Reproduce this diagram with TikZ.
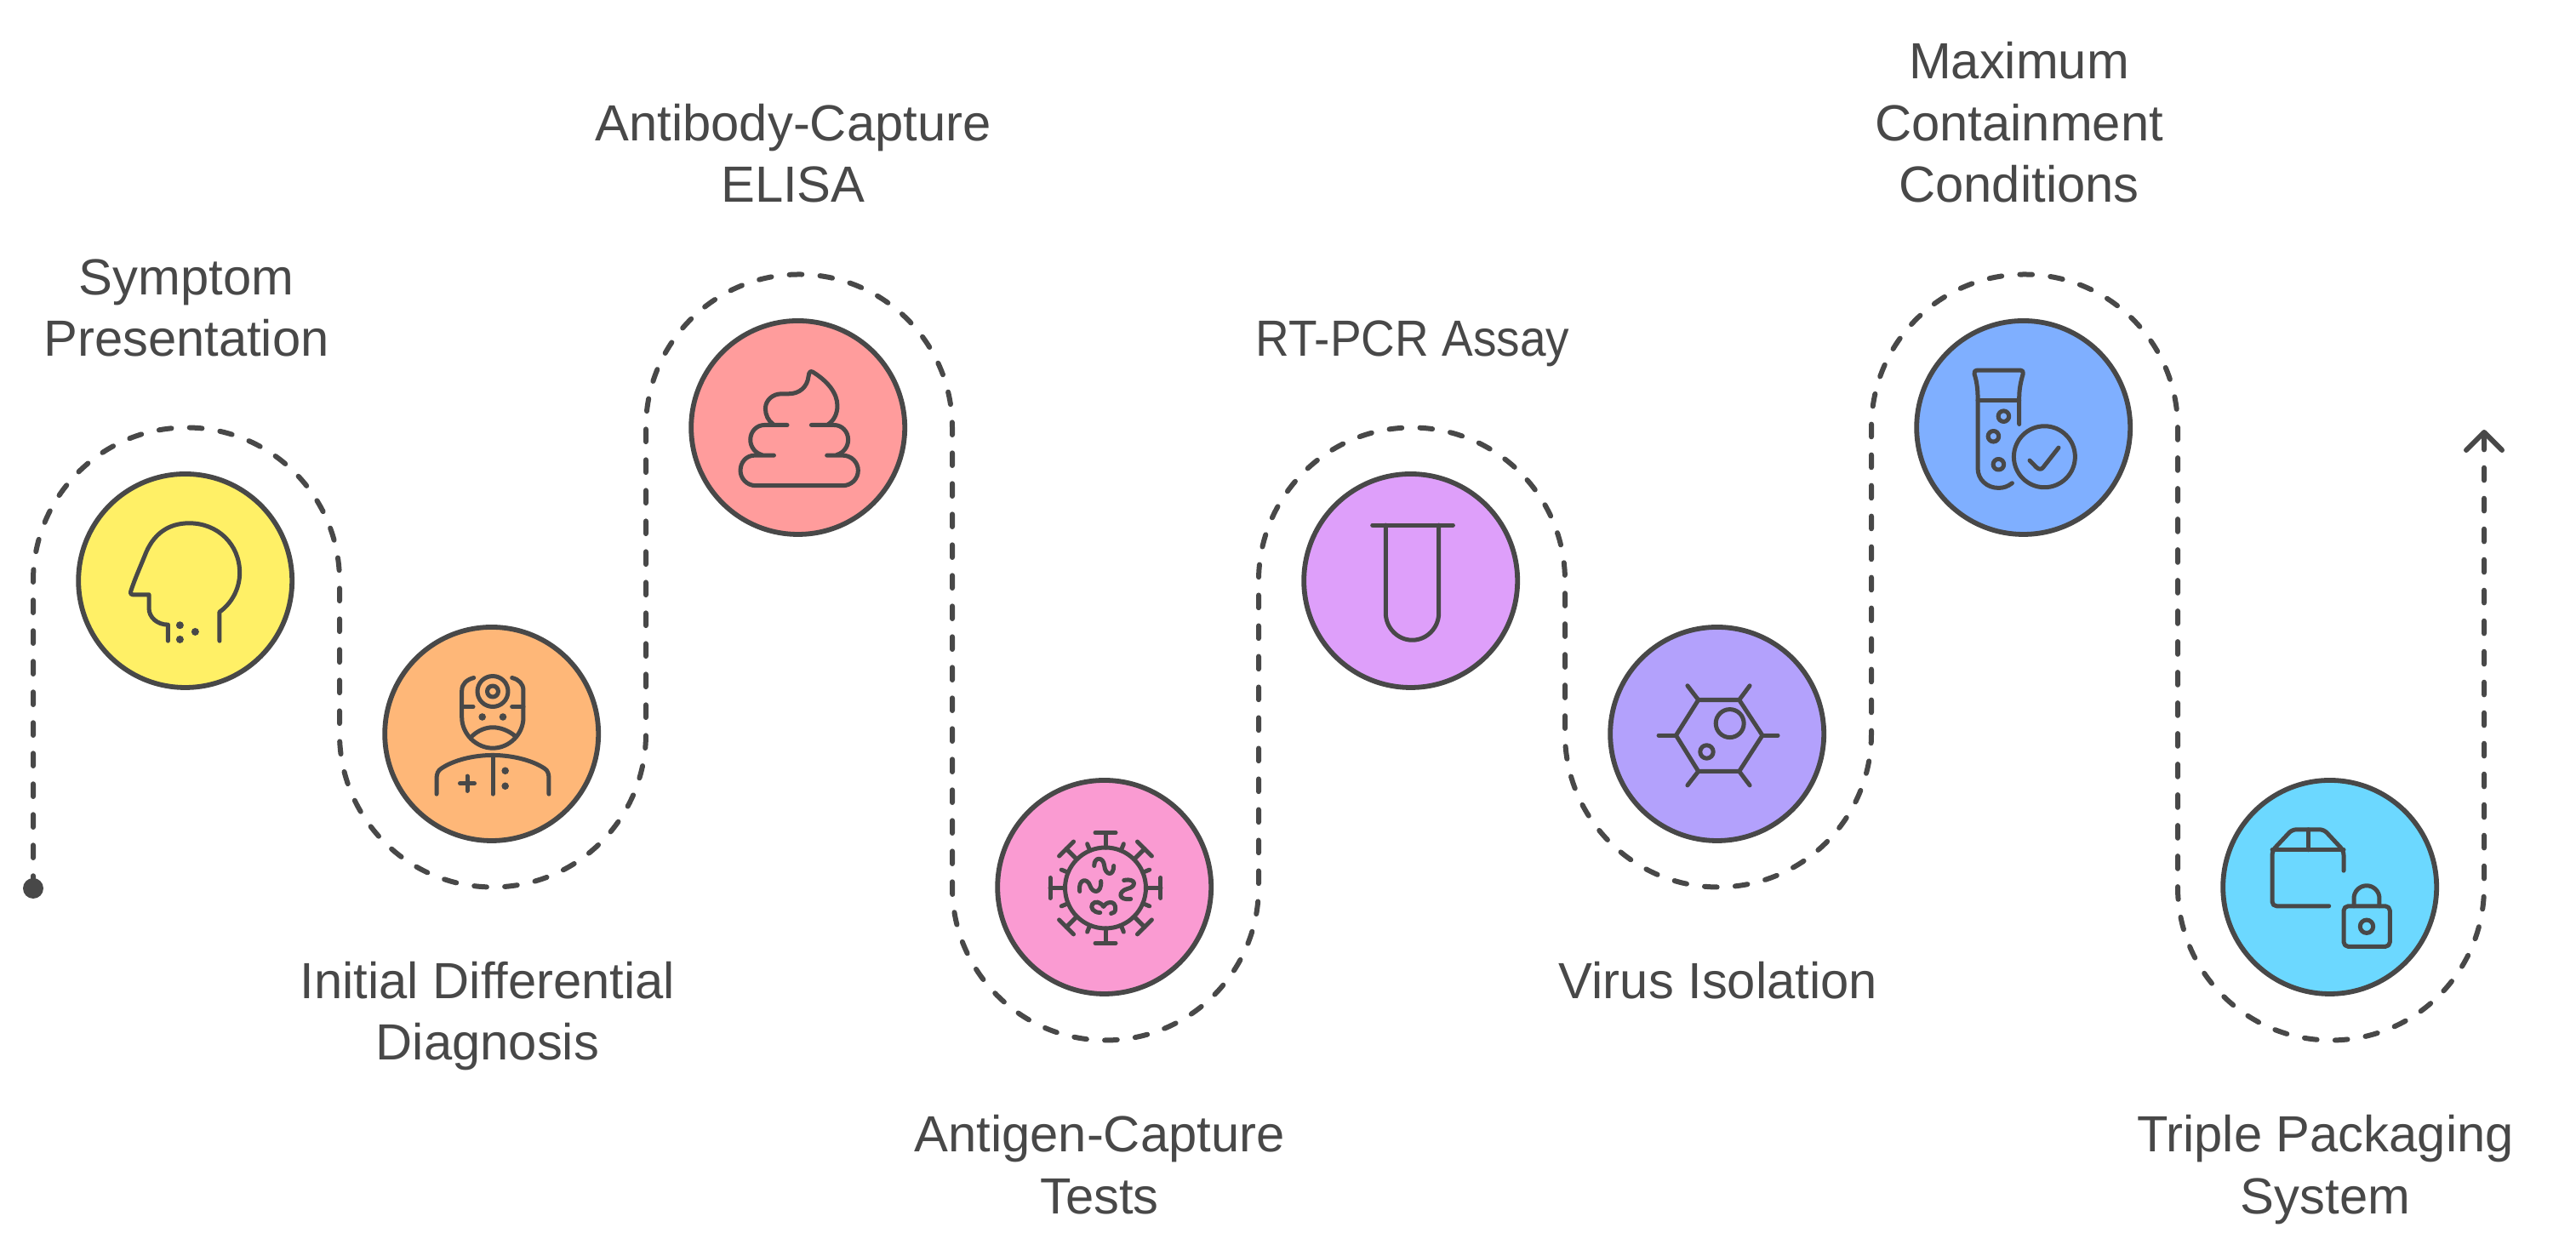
\documentclass[tikz,border=0pt]{standalone}
\usepackage{fontspec}
\setmainfont{Liberation Sans}
\usepackage[HTML]{xcolor}
\usetikzlibrary{positioning, arrows.meta}

\definecolor{inkgray}{HTML}{484848}
\definecolor{stepyellow}{HTML}{FFF066}
\definecolor{steporange}{HTML}{FEB778}
\definecolor{stepred}{HTML}{FF9C9C}
\definecolor{steppink}{HTML}{FA9BD2}
\definecolor{steppurple}{HTML}{DE9FFA}
\definecolor{stepviolet}{HTML}{B3A1FC}
\definecolor{stepblue}{HTML}{7FAFFF}
\definecolor{stepcyan}{HTML}{6CD8FF}

\tikzset{
  stepcircle/.style={circle, draw=inkgray, line width=0.058cm, minimum size=2.51cm, inner sep=0pt, outer sep=0pt},
  steplabel/.style={text=inkgray, align=center, inner sep=0pt, font=\fontsize{17}{20.6}\selectfont},
  flowline/.style={draw=inkgray, line width=0.06cm, line cap=round, dash pattern=on 0.147cm off 0.213cm},
  iconline/.style={draw=inkgray, line width=0.05cm, line cap=round, line join=round, x=0.01cm, y=-0.01cm},
  icondot/.style={fill=inkgray, draw=none},
}

\begin{document}
\begin{tikzpicture}
\useasboundingbox (0,0) rectangle (30.27,14.76);

% Flow line first, behind circles
\coordinate (start) at (0.39,4.32);
\coordinate (turnA) at (0.39,7.935);
\coordinate (turnB) at (3.99,6.135);
\coordinate (turnC) at (7.59,9.735);
\coordinate (turnD) at (11.19,4.335);
\coordinate (turnE) at (14.79,7.935);
\coordinate (turnF) at (18.39,6.135);
\coordinate (turnG) at (21.99,9.735);
\coordinate (turnH) at (25.59,4.335);
\coordinate (finish) at (29.19,9.71);

\draw[flowline, -{Straight Barb[length=0.21cm, width=0.42cm, round]}] (start)--(turnA)
  arc[start angle=180, end angle=0, radius=1.8]--(turnB)
  arc[start angle=180, end angle=360, radius=1.8]--(turnC)
  arc[start angle=180, end angle=0, radius=1.8]--(turnD)
  arc[start angle=180, end angle=360, radius=1.8]--(turnE)
  arc[start angle=180, end angle=0, radius=1.8]--(turnF)
  arc[start angle=180, end angle=360, radius=1.8]--(turnG)
  arc[start angle=180, end angle=0, radius=1.8]--(turnH)
  arc[start angle=180, end angle=360, radius=1.8]--(finish);
\fill[inkgray] (start) circle (0.12);

% Step circles
\node[stepcircle, fill=stepyellow] (symptom) at (2.177,7.935) {};
\node[stepcircle, fill=steporange] (diagnosis) at (5.777,6.135) {};
\node[stepcircle, fill=stepred] (elisa) at (9.377,9.735) {};
\node[stepcircle, fill=steppink] (antigen) at (12.977,4.335) {};
\node[stepcircle, fill=steppurple] (pcr) at (16.577,7.935) {};
\node[stepcircle, fill=stepviolet] (isolation) at (20.177,6.135) {};
\node[stepcircle, fill=stepblue] (containment) at (23.777,9.735) {};
\node[stepcircle, fill=stepcyan] (packaging) at (27.377,4.335) {};

% Labels
\node[steplabel] (symptomtext) at (2.19,11.14) {Symptom\\Presentation};
\node[steplabel] (diagnosistext) at (5.73,2.82) {Initial Differential\\Diagnosis};
\node[steplabel] (elisatext) at (9.32,12.96) {Antibody-Capture\\ELISA};
\node[steplabel] (antigentext) at (12.92,1.075) {Antigen-Capture\\Tests};
\node[steplabel] (pcrtext) at (16.6,10.72) {\addfontfeature{FakeStretch=0.92}RT-PCR Assay};
\node[steplabel] (isolationtext) at (20.19,3.24) {Virus Isolation};
\node[steplabel] (containmenttext) at (23.725,13.32) {Maximum\\Containment\\Conditions};
\node[steplabel] (packagingtext) at (27.325,1.015) {Triple Packaging\\System};

% Head icon
\begin{scope}[shift={(symptom)}, iconline]
\draw (40.3,70.7)--(40.3,36.7) .. controls (54,27) and (64,10) .. (64,-9.3)
  .. controls (64,-43) and (38,-67.7) .. (4.7,-67.7)
  .. controls (-20,-67.7) and (-38,-55) .. (-47.7,-29.3)
  .. controls (-53,-16) and (-59,-3) .. (-64,12.3)
  .. controls (-65,15) and (-64,16.3) .. (-62,16.3)--(-42.7,16.3)--(-42.7,32.3)
  .. controls (-42.7,43) and (-33,51.7) .. (-20.3,51.7)--(-20.3,70.7);
\foreach \px/\py in {-6.3/52.3, 11.7/60, -6.3/69}
  \fill[icondot] (\px,\py) circle (4.5);
\end{scope}

% Doctor icon
\begin{scope}[shift={(diagnosis)}, iconline]
\draw (1.3,-50) circle (18);
\draw (1.3,-50) circle (6.5);
\draw (-21,-66) .. controls (-29,-64) and (-35,-59) .. (-35,-51)--(-35,-19.3)
  .. controls (-35,0) and (-18,16.7) .. (1.3,16.7)
  .. controls (21,16.7) and (37.3,0) .. (37.3,-19.3)--(37.3,-51)
  .. controls (37.3,-59) and (32,-64) .. (24,-66);
\draw (-35,-32)--(-21.7,-32);
\draw (24,-32)--(37.3,-32);
\foreach \px/\py in {-11/-20, 13.3/-20, 16/43.3, 16/61.3}
  \fill[icondot] (\px,\py) circle (4.3);
\draw (-22.7,2.3) .. controls (-16,-4) and (-7,-7.7) .. (1.3,-7.7)
  .. controls (10,-7.7) and (20,-4) .. (27.3,2.3);
\draw (-64.7,70.7)--(-64.7,52.3) .. controls (-64.7,47) and (-63,43) .. (-59.3,40.7)
  .. controls (-45,31) and (-22,25) .. (1.3,25)
  .. controls (24,25) and (48,31) .. (62.3,40.7)
  .. controls (66,43) and (67.3,47) .. (67.3,52.3)--(67.3,70.7);
\draw (1.3,25)--(1.3,70.7);
\draw (-37.2,58.3)--(-20.2,58.3);
\draw (-28.7,49.6)--(-28.7,67);
\end{scope}

% Swirl icon
\begin{scope}[shift={(elisa)}, iconline]
\draw (-28.3,32.7)--(-51,32.7) .. controls (-61,32.7) and (-67.7,41) .. (-67.7,50.5)
  .. controls (-67.7,60) and (-60,68.3) .. (-49.3,68.3)--(52.3,68.3)
  .. controls (63,68.3) and (70.7,60) .. (70.7,50.5)
  .. controls (70.7,41) and (63,32.7) .. (52.3,32.7)--(34,32.7);
\draw (-12.7,-3)--(-39.3,-3) .. controls (-49,-3) and (-56,5) .. (-56,14.3)
  .. controls (-56,23) and (-50,30) .. (-42.7,32);
\draw (15.7,-3)--(42.3,-3) .. controls (52,-3) and (59,5) .. (59,14.3)
  .. controls (59,23) and (53,30) .. (45.7,32);
\draw (-29.3,-4) .. controls (-35,-8) and (-38.3,-15) .. (-38.3,-22.3)
  .. controls (-38.3,-32) and (-30,-39.7) .. (-19.3,-39.7)--(-11,-39.7)
  .. controls (2,-39.7) and (11,-48) .. (12.3,-60)
  .. controls (13,-66) and (15,-67) .. (18,-65)
  .. controls (34,-55) and (46.3,-41) .. (46.3,-25.7)
  .. controls (46.3,-16) and (42,-8) .. (35.7,-4);
\end{scope}

% Virus icon
\begin{scope}[shift={(antigen)}, iconline]
\begin{scope}[shift={(1.3,1)}]
\draw (0,0) circle (47.5);
\foreach \a in {0,45,...,315}{
  \draw[rotate=\a] (47.5,0)--(65,0);
  \draw[rotate=\a] (65,-12)--(65,12);
  \draw[rotate=\a+22.5] (47.5,0)--(56,0);
}
\end{scope}
\draw (-12,-25) .. controls (-12,-36) and (-1,-36) .. (0,-25)
  .. controls (1,-14) and (11,-12) .. (11,-25);
\draw (-29,5) .. controls (-31,-10) and (-20,-11) .. (-17,-2)
  .. controls (-14,8) and (-3,8) .. (-4,-7);
\draw (23,-8) .. controls (38,-11) and (38,0) .. (27,2)
  .. controls (16,5) and (16,16) .. (31,14);
\draw (-5,30) .. controls (-13,30) and (-17,24) .. (-14,20)
  .. controls (-11,16) and (-5,17) .. (-1,23)
  .. controls (2,17) and (13,15) .. (13,25)
  .. controls (13,29) and (11,31) .. (8,31);
\end{scope}

% Tube icon
\begin{scope}[shift={(pcr)}, iconline]
\draw (-45,-65.4)--(49.7,-65.4);
\draw (-29.4,-65.4)--(-29.4,38) .. controls (-29.4,55.2) and (-15.4,69.8) .. (1.8,69.8)
  .. controls (19,69.8) and (33,55.2) .. (33,38)--(33,-65.4);
\end{scope}

% Cell icon
\begin{scope}[shift={(isolation)}, iconline]
\draw (-48.3,1.7)--(-22,-40)--(26,-40)--(53.3,1.7)--(26,44)--(-22,44)--cycle;
\draw (-68.7,1.7)--(-48.3,1.7);
\draw (53.3,1.7)--(71.4,1.7);
\draw (-34.8,-56.7)--(-22,-40);
\draw (38.4,-56.7)--(26,-40);
\draw (-34.8,60.4)--(-22,44);
\draw (38.4,60.4)--(26,44);
\draw (15,-12.4) circle (16.5);
\draw (-12.2,21) circle (7.7);
\end{scope}

% Checked tube icon
\begin{scope}[shift={(containment)}, iconline]
\draw (-13.3,65.3) .. controls (-18,69) and (-23,71) .. (-29.3,71)
  .. controls (-43,71) and (-53.7,61) .. (-53.7,48)--(-53.7,-35.7)
  .. controls (-53.7,-45) and (-55,-55) .. (-57.7,-63)
  .. controls (-58,-66) and (-57,-67.3) .. (-55,-67.3)--(-3,-67.3)
  .. controls (-1,-67.3) and (0,-66) .. (-0.5,-63)
  .. controls (-3,-55) and (-5,-45) .. (-5,-35.7)--(-5,-4);
\draw (-53.7,-32.3)--(-5,-32.3);
\draw (-23.3,-13.3) circle (6.3);
\draw (-35.3,10.3) circle (6.3);
\draw (-29.3,43.3) circle (6.3);
\draw (24.7,34.3) circle (36);
\draw (7.3,38.7)--(15,46.5) .. controls (18,49.5) and (21,49.5) .. (23,47)--(41.3,23.7);
\end{scope}

% Box and lock icon
\begin{scope}[shift={(packaging)}, iconline]
\draw[rounded corners=0.05cm] (-1,22.3)--(-67.7,22.3)--(-67.7,-42.7)--(-44.3,-67.7)
  --(-7,-67.7)--(16.3,-42.7)--(16.3,-19.3);
\draw (-67.7,-43.7)--(16.3,-43.7);
\draw (-25.3,-67.7)--(-25.3,-43.7);
\draw[rounded corners=0.055cm] (16.3,22.3) rectangle (70.7,70);
\draw (28.3,22.3)--(28.3,13.3) .. controls (28.3,5) and (35,-1.7) .. (43.3,-1.7)
  .. controls (51.6,-1.7) and (58.3,5) .. (58.3,13.3)--(58.3,22.3);
\draw (43.3,46.3) circle (7.7);
\end{scope}

\end{tikzpicture}
\end{document}
